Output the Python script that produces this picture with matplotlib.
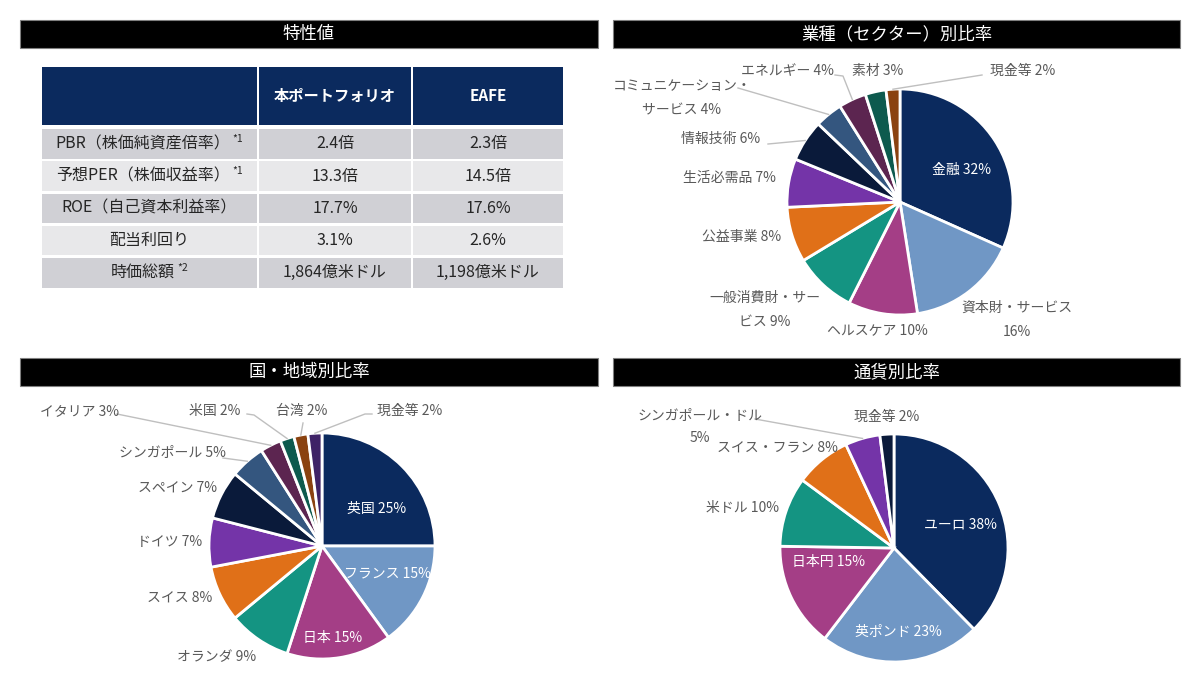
import numpy as np
import matplotlib
matplotlib.use("Agg")
import matplotlib.pyplot as plt
from matplotlib.patches import Rectangle

plt.rcParams['font.family'] = ['Noto Sans CJK JP', 'DejaVu Sans']

# ---- data ----
table_cols = ["本ポートフォリオ", "EAFE"]
row_labels = ["PBR（株価純資産倍率）", "予想PER（株価収益率）", "ROE（自己資本利益率）", "配当利回り", "時価総額"]
row_notes = ["*1", "*1", "", "", "*2"]
portfolio_vals = ["2.4倍", "13.3倍", "17.7%", "3.1%", "1,864億米ドル"]
eafe_vals = ["2.3倍", "14.5倍", "17.6%", "2.6%", "1,198億米ドル"]

sector_labels = ["金融", "資本財・サービス", "ヘルスケア", "一般消費財・サービス", "公益事業", "生活必需品",
                 "情報技術", "コミュニケーション・サービス", "エネルギー", "素材", "現金等"]
sector_values = [32, 16, 10, 9, 8, 7, 6, 4, 4, 3, 2]

country_labels = ["英国", "フランス", "日本", "オランダ", "スイス", "ドイツ", "スペイン",
                  "シンガポール", "イタリア", "米国", "台湾", "現金等"]
country_values = [25, 15, 15, 9, 8, 7, 7, 5, 3, 2, 2, 2]

currency_labels = ["ユーロ", "英ポンド", "日本円", "米ドル", "スイス・フラン", "シンガポール・ドル", "現金等"]
currency_values = [38, 23, 15, 10, 8, 5, 2]

# ---- styles ----
NAVY = "#0B2A5E"
palette = ["#0B2A5E", "#7097C5", "#A43E86", "#149482", "#E07018", "#7434A8",
           "#0A1A3A", "#34567F", "#5C2550", "#0D5A4E", "#8A4210", "#3E2266"]
sector_colors = palette[:11]
country_colors = palette[:12]
currency_colors = palette[:6] + ["#0A1A3A"]
GREY_TXT = "#595959"
LEADER = "#BFBFBF"

W, H = 1200, 683
fig = plt.figure(figsize=(12, 6.83), dpi=100)
ax = fig.add_axes([0, 0, 1, 1])
ax.set_xlim(0, W)
ax.set_ylim(0, H)
ax.axis('off')


def Y(y):
    return H - y


def header(x0, x1, y0, y1, text):
    ax.add_patch(Rectangle((x0, Y(y1)), x1 - x0, y1 - y0, facecolor="black",
                           edgecolor="#7F7F7F", linewidth=0.8))
    ax.text((x0 + x1) / 2, Y((y0 + y1) / 2), text, color="white", fontsize=12.5,
            ha="center", va="center")


header(20, 598, 20, 48, "特性値")
header(613, 1180, 20, 48, "業種（セクター）別比率")
header(20, 598, 358, 386, "国・地域別比率")
header(613, 1180, 358, 386, "通貨別比率")

# ---- table ----
col_x = [(42, 257), (259, 411), (413, 563)]
for (x0, x1) in col_x:
    ax.add_patch(Rectangle((x0, Y(125)), x1 - x0, 125 - 67, facecolor=NAVY, edgecolor="none"))
for (x0, x1), name in zip(col_x[1:], table_cols):
    ax.text((x0 + x1) / 2, Y(96), name, color="white", fontsize=11, fontweight="bold",
            ha="center", va="center")

renderer = fig.canvas.get_renderer()
for i, (lab, note, pv, ev) in enumerate(zip(row_labels, row_notes, portfolio_vals, eafe_vals)):
    top = 129 + i * 32.3
    h = 29.5
    fc = "#D0D0D5" if i % 2 == 0 else "#E8E8EA"
    for (x0, x1) in col_x:
        ax.add_patch(Rectangle((x0, Y(top + h)), x1 - x0, h, facecolor=fc, edgecolor="none"))
    yc = Y(top + h / 2)
    t = ax.text(0, yc, lab, color="#262626", fontsize=11.5, ha="left", va="center")
    bb = t.get_window_extent(renderer)
    s = None
    sw = 0
    if note:
        s = ax.text(0, yc + 5, note, color="#262626", fontsize=7.5, ha="left", va="center")
        sw = s.get_window_extent(renderer).width + 2
    total = bb.width + sw
    cx = (col_x[0][0] + col_x[0][1]) / 2
    t.set_x(cx - total / 2)
    if s is not None:
        s.set_x(cx - total / 2 + bb.width + 2)
    for (x0, x1), v in zip(col_x[1:], [pv, ev]):
        ax.text((x0 + x1) / 2, yc, v, color="#262626", fontsize=11.5, ha="center", va="center")


# ---- pies ----
def draw_pie(values, colors, center, radius, labels, label_pos, label_white, leaders, pitch=24):
    cx, cy = center
    wedges, _ = ax.pie(values, colors=colors, startangle=90, counterclock=False,
                       center=(cx, Y(cy)), radius=radius, frame=True,
                       wedgeprops=dict(edgecolor="white", linewidth=2))
    for i, (lab, pos) in enumerate(zip(labels, label_pos)):
        col = "white" if i in label_white else GREY_TXT
        lines = lab.split("\n")
        y0 = pos[1] - pitch * (len(lines) - 1) / 2
        for k, line in enumerate(lines):
            ax.text(pos[0], Y(y0 + k * pitch), line, color=col, fontsize=10,
                    ha="center", va="center")
    for i, pts in leaders.items():
        w = wedges[i]
        mid = np.deg2rad((w.theta1 + w.theta2) / 2)
        ex = cx + radius * np.cos(mid)
        ey = Y(cy) + radius * np.sin(mid)
        xs = [p[0] for p in pts] + [ex]
        ys = [Y(p[1]) for p in pts] + [ey]
        ax.plot(xs, ys, color=LEADER, linewidth=1)


sector_wrap = {"一般消費財・サービス": "一般消費財・サー\nビス ", "資本財・サービス": "資本財・サービス\n",
               "コミュニケーション・サービス": "コミュニケーション・\nサービス "}
sector_text = [sector_wrap.get(n, n + " ") + f"{v}%" for n, v in zip(sector_labels, sector_values)]
sector_pos = [(962, 170), (1017, 320), (877, 330), (765, 310), (742, 237), (729, 178),
              (721, 139), (682, 98), (787, 71), (878, 71), (1023, 71)]
draw_pie(sector_values, sector_colors, (900, 202), 113, sector_text, sector_pos, {0},
         {10: [(982, 75)], 8: [(835, 75), (843, 76)], 7: [(738, 88)], 6: [(768, 144)]})

country_text = [f"{n} {v}%" for n, v in zip(country_labels, country_values)]
country_pos = [(377, 509), (387, 573), (333, 638), (217, 657), (180, 598), (170, 542),
               (178, 488), (172, 453), (80, 411), (215, 411), (302, 411), (410, 411)]
draw_pie(country_values, country_colors, (322, 546), 113, country_text, country_pos, {0, 1, 2},
         {7: [(223, 458)], 8: [(117, 414)], 9: [(247, 414), (254, 415)], 10: [(303, 423)],
          11: [(372, 414), (365, 414)]})

currency_wrap = {"シンガポール・ドル": "シンガポール・ドル\n"}
currency_text = [currency_wrap.get(n, n + " ") + f"{v}%" for n, v in zip(currency_labels, currency_values)]
currency_pos = [(960, 525), (898, 632), (828, 562), (742, 508), (777, 447), (700, 427), (887, 417)]
draw_pie(currency_values, currency_colors, (894, 548), 114, currency_text, currency_pos, {0, 1, 2},
         {5: [(755, 419)]}, pitch=22)

ax.set_xlim(0, W)
ax.set_ylim(0, H)
ax.axis('off')
fig.savefig("out.png", dpi=100)
